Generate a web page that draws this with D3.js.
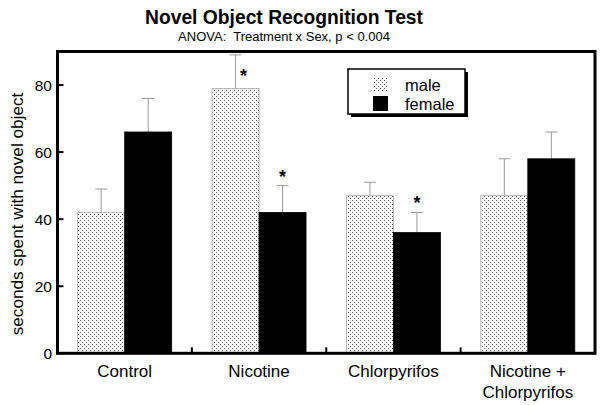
<!DOCTYPE html>
<html><head><meta charset="utf-8">
<script src="https://cdn.jsdelivr.net/npm/d3@7"></script>
<style>
body{margin:0;background:#fff;}
text{font-family:"Liberation Sans",Arial,Helvetica,sans-serif;fill:#000;}
</style></head>
<body>
<svg id="c" width="605" height="405"></svg>
<script>
const categories = ["Control","Nicotine","Chlorpyrifos","Nicotine + Chlorpyrifos"];
const series = ["male","female"];
const maleMean = [42, 79, 47, 47];
const maleErr  = [7, 10, 4, 11];
const femaleMean = [66, 42, 36, 58];
const femaleErr  = [10, 8, 6, 8];
const maleStar = [false, true, false, false];
const femaleStar = [false, true, true, false];
const yTicks = [0, 20, 40, 60, 80];

const svg = d3.select("#c");
const L = 57.5, R = 595, T = 51.5, B = 353.3;

const defs = svg.append("defs");
const pat = defs.append("pattern").attr("id","dots").attr("patternUnits","userSpaceOnUse")
  .attr("width",4).attr("height",4);
pat.append("rect").attr("width",4).attr("height",4).attr("fill","#fff");
pat.append("rect").attr("x",0).attr("y",0).attr("width",1).attr("height",1).attr("fill","#555");
pat.append("rect").attr("x",2).attr("y",2).attr("width",1).attr("height",1).attr("fill","#555");

const x0 = d3.scaleBand().domain(categories).range([L, R]).padding(0);
const x1 = d3.scaleBand().domain(series).range([0, x0.bandwidth()]).paddingInner(0).paddingOuter(0.43);
const y = d3.scaleLinear().domain([0, 90]).range([B, T]);

const data = [];
categories.forEach((c,i)=>{
  data.push({c, s:"male", v:maleMean[i], e:maleErr[i], star:maleStar[i]});
  data.push({c, s:"female", v:femaleMean[i], e:femaleErr[i], star:femaleStar[i]});
});

// error bars
const eb = svg.append("g");
data.forEach(d=>{
  const cx = x0(d.c) + x1(d.s) + x1.bandwidth()/2;
  eb.append("line").attr("x1",cx).attr("x2",cx).attr("y1",y(d.v)).attr("y2",y(d.v+d.e))
    .attr("stroke","#999").attr("stroke-width",1);
  eb.append("line").attr("x1",cx-6).attr("x2",cx+6).attr("y1",y(d.v+d.e)).attr("y2",y(d.v+d.e))
    .attr("stroke","#999").attr("stroke-width",1);
});

// bars
svg.append("g").selectAll("rect").data(data).join("rect")
  .attr("x", d=>x0(d.c)+x1(d.s))
  .attr("y", d=>y(d.v))
  .attr("width", x1.bandwidth())
  .attr("height", d=>y(0)-y(d.v))
  .attr("fill", d=>d.s==="male" ? "url(#dots)" : "#000")
  .attr("stroke", d=>d.s==="male" ? "#aaa" : "#000")
  .attr("stroke-width", 0.8);

// asterisks
data.filter(d=>d.star).forEach(d=>{
  const cx = x0(d.c) + x1(d.s) + x1.bandwidth()/2;
  if (d.s==="male") {
    svg.append("text").attr("x",cx+8).attr("y",y(d.v+d.e)+27).attr("text-anchor","middle")
      .attr("font-size",18).attr("font-weight","bold").text("*");
  } else {
    svg.append("text").attr("x",cx).attr("y",y(d.v+d.e)-3).attr("text-anchor","middle")
      .attr("font-size",18).attr("font-weight","bold").text("*");
  }
});

// y ticks
const yAxis = svg.append("g");
yTicks.forEach(t=>{
  yAxis.append("line").attr("x1",L).attr("x2",L+6).attr("y1",y(t)).attr("y2",y(t))
    .attr("stroke","#000").attr("stroke-width",2);
  yAxis.append("text").attr("x",52).attr("y",y(t)).attr("dy","0.36em").attr("text-anchor","end")
    .attr("font-size",15.5).text(t);
});

// x boundary ticks
categories.slice(1).forEach(c=>{
  svg.append("line").attr("x1",x0(c)).attr("x2",x0(c)).attr("y1",B).attr("y2",B-6)
    .attr("stroke","#000").attr("stroke-width",2);
});

// frame
svg.append("rect").attr("x",L).attr("y",T).attr("width",R-L).attr("height",B-T)
  .attr("fill","none").attr("stroke","#000").attr("stroke-width",3);

// category labels
categories.forEach(c=>{
  const cx = x0(c) + x0.bandwidth()/2;
  const parts = c === "Nicotine + Chlorpyrifos" ? ["Nicotine +","Chlorpyrifos"] : [c];
  const t = svg.append("text").attr("x",cx).attr("y",377).attr("text-anchor","middle").attr("font-size",17);
  parts.forEach((p,i)=>t.append("tspan").attr("x",cx).attr("dy", i===0?0:20.5).text(p));
});

// y label
svg.append("text").attr("transform","translate(23,214) rotate(-90)").attr("text-anchor","middle")
  .attr("font-size",17.2).text("seconds spent with novel object");

// titles
svg.append("text").attr("x",284).attr("y",24).attr("text-anchor","middle")
  .attr("font-size",21).attr("font-weight","bold")
  .attr("textLength",278).attr("lengthAdjust","spacingAndGlyphs")
  .text("Novel Object Recognition Test");
svg.append("text").attr("x",284).attr("y",40.5).attr("text-anchor","middle")
  .attr("font-size",13).style("white-space","pre").text("ANOVA:  Treatment x Sex, p < 0.004");

// legend
const lg = svg.append("g");
lg.append("rect").attr("x",351).attr("y",72).attr("width",117).attr("height",45).attr("fill","#000");
lg.append("rect").attr("x",348).attr("y",69).attr("width",117).attr("height",45)
  .attr("fill","#fff").attr("stroke","#000").attr("stroke-width",1.5);
lg.append("rect").attr("x",373).attr("y",78).attr("width",15).attr("height",14).attr("fill","url(#dots)");
lg.append("rect").attr("x",373).attr("y",96).attr("width",15).attr("height",15).attr("fill","#000");
lg.append("text").attr("x",405).attr("y",91).attr("font-size",16.5).text("male");
lg.append("text").attr("x",405).attr("y",109.5).attr("font-size",16.5).text("female");
</script>
</body></html>
